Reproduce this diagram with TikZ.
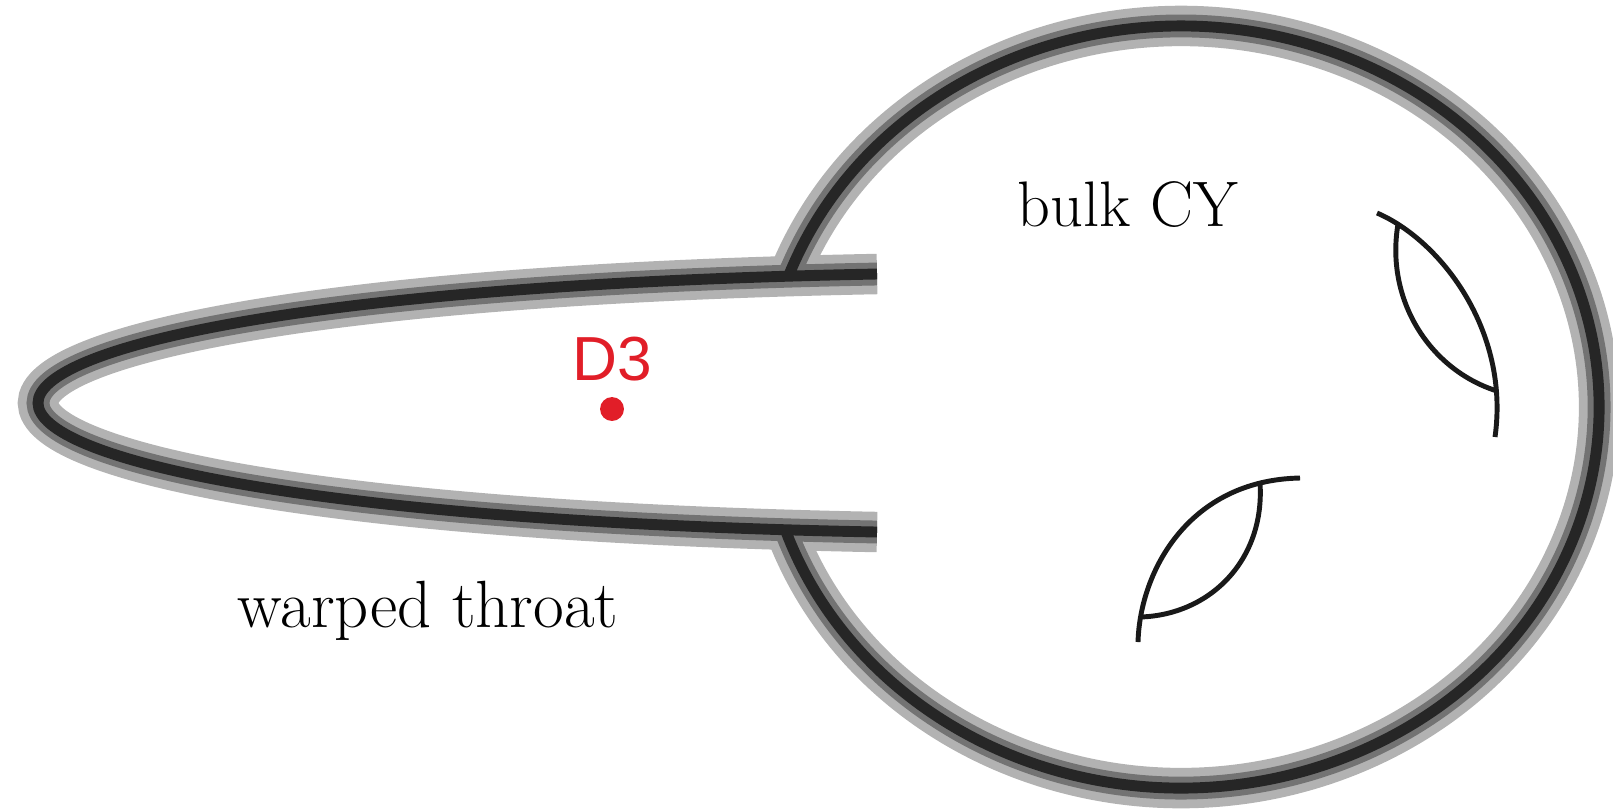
\documentclass[tikz,border=0pt]{standalone}
\usepackage{fontspec}
\newfontfamily\labelsans{Liberation Sans}
\usetikzlibrary{positioning}
\definecolor{dred}{RGB}{225,30,40}

\begin{document}
\begin{tikzpicture} [x=0.01cm, y=-0.01cm,
	wall/.style={line width=3.1pt, draw=black!85,
		preaction={draw=black!30, line width=11.5pt},
		preaction={draw=black!55, line width=6.5pt}},
	handle/.style={line width=1.4pt, draw=black!90},
	lbl/.style={inner sep=0pt, anchor=base}]
		\useasboundingbox (0,0) rectangle (1613,808);
		\coordinate (tip) at (38,403);
		\coordinate (mouthU) at (877,274);
		\coordinate (mouthL) at (877,532);
		\coordinate (bulk) at (1181,407);
		\path [wall]
		(mouthU) .. controls (300,285) and (38,348) .. (tip)
		.. controls (38,458) and (300,521) .. (mouthL)
		(bulk) ++(200.43:418 and 381) arc [start angle=200.43, end angle=520.85, x radius=418, y radius=381]
		;
		\draw [handle] (1377,213) .. controls (1440,240) and (1510,330) .. (1495,437);
		\draw [handle] (1398,224) .. controls (1385,300) and (1430,370) .. (1497,391);
		\draw [handle] (1300,478) .. controls (1190,480) and (1140,570) .. (1138,642);
		\draw [handle] (1260,483) .. controls (1265,560) and (1210,615) .. (1140,617);
		\node (brane) [circle, fill=dred, minimum size=6.8pt, inner sep=0pt] at (612,409) {};
		\node (d3) [above=4pt of brane, inner sep=0pt, text=dred, font=\labelsans\fontsize{17.7}{21}\selectfont] {D3};
		\node (cy) [lbl, font=\fontsize{18.3}{22}\selectfont] at (1128,226) {bulk CY};
		\node (throat) [lbl, font=\fontsize{19}{23}\selectfont] at (428,627) {warped throat};
	\end{tikzpicture}
\end{document}
